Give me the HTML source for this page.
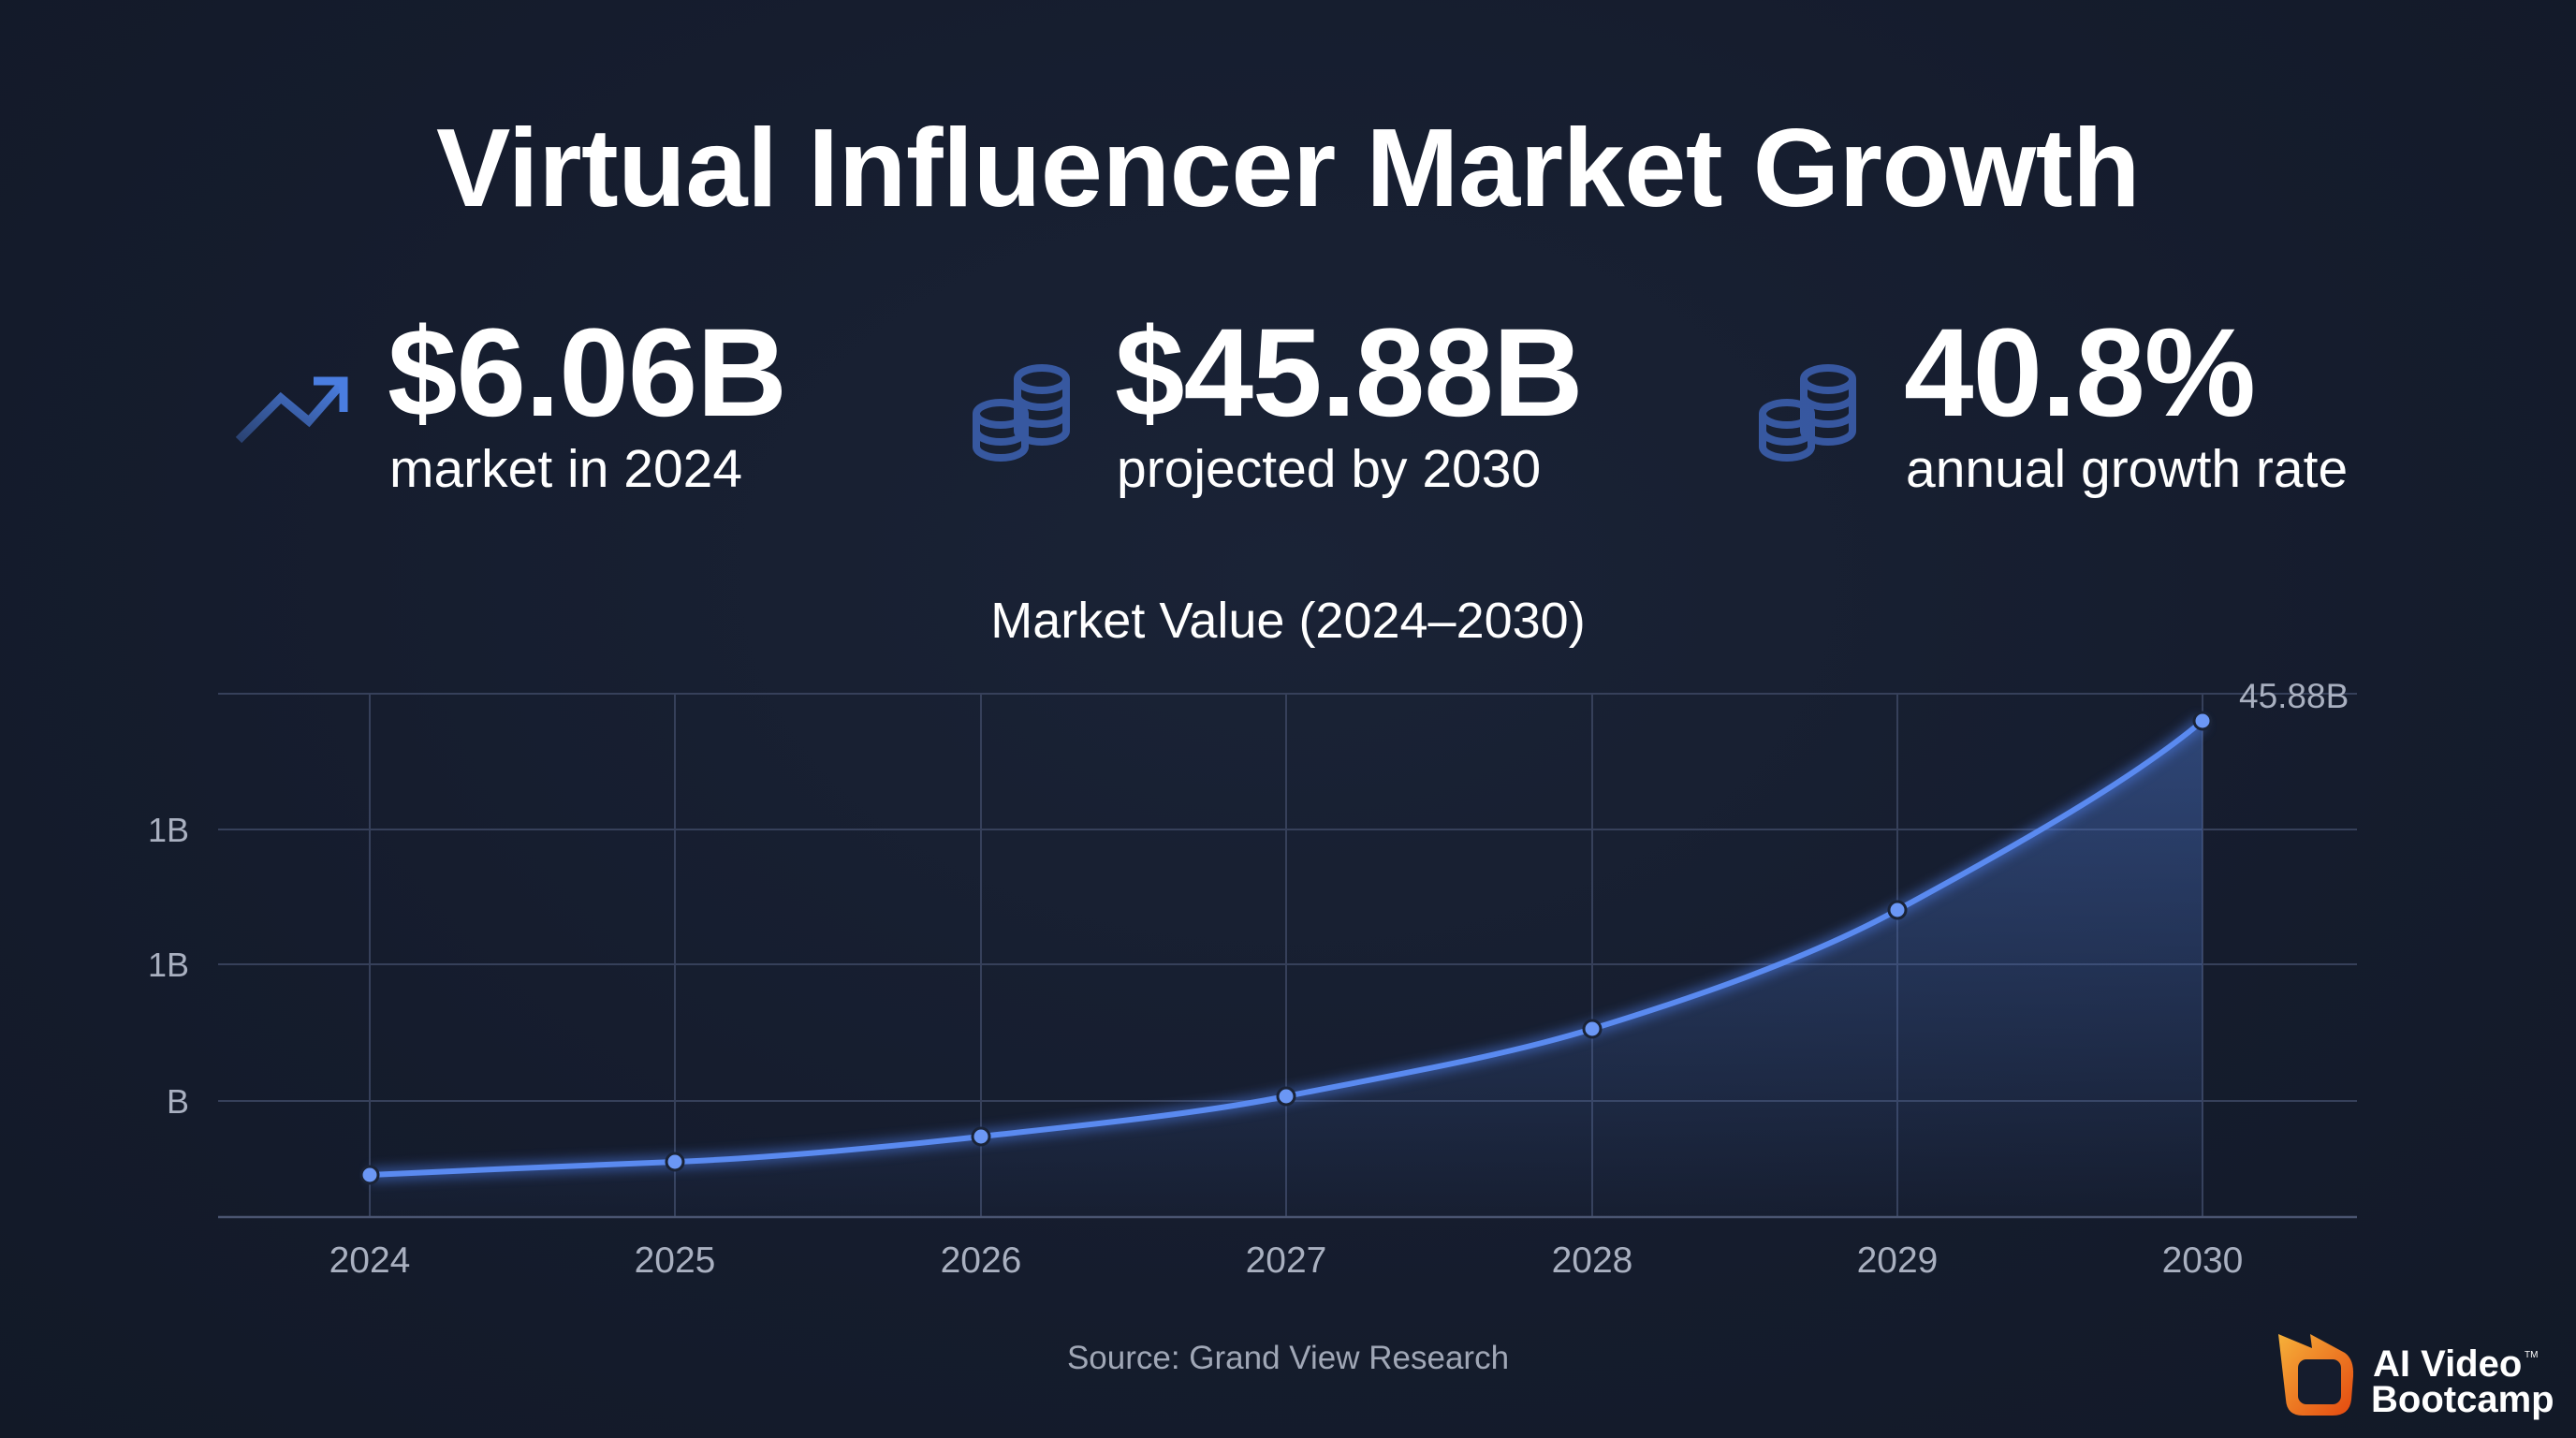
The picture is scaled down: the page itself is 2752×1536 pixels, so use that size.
<!DOCTYPE html>
<html><head><meta charset="utf-8"><style>
html,body{margin:0;padding:0;background:#151c2d;}
body{width:2752px;height:1536px;overflow:hidden;position:relative;font-family:"Liberation Sans",sans-serif;color:#fff;
background:radial-gradient(ellipse at 50% 40%,#1a2336 0%,#151c2d 60%,#121927 100%);}
.t{position:absolute;white-space:nowrap;}
</style></head><body>
<div class="t" style="left:0;width:2752px;text-align:center;top:111px;font-size:119px;font-weight:bold;letter-spacing:-0.5px;">Virtual Influencer Market Growth</div>

<div class="t" style="left:414px;top:322px;font-size:134px;font-weight:bold;letter-spacing:-1px;">$6.06B</div>
<div class="t" style="left:416px;top:468px;font-size:57px;">market in 2024</div>
<div class="t" style="left:1191px;top:322px;font-size:134px;font-weight:bold;letter-spacing:-1px;">$45.88B</div>
<div class="t" style="left:1193px;top:468px;font-size:57px;">projected by 2030</div>
<div class="t" style="left:2034px;top:322px;font-size:134px;font-weight:bold;letter-spacing:-1px;">40.8%</div>
<div class="t" style="left:2036px;top:468px;font-size:57px;">annual growth rate</div>

<svg width="2752" height="1536" style="position:absolute;left:0;top:0" xmlns="http://www.w3.org/2000/svg">
<defs>
<linearGradient id="tr" x1="0" y1="1" x2="1" y2="0"><stop offset="0" stop-color="#2a4272"/><stop offset="1" stop-color="#4a7de0"/></linearGradient>
<linearGradient id="ar" x1="0" y1="0" x2="0" y2="1"><stop offset="0" stop-color="#4d78d0" stop-opacity="0.45"/><stop offset="1" stop-color="#4d78d0" stop-opacity="0.02"/></linearGradient>
<linearGradient id="lg" x1="0" y1="0" x2="1" y2="1"><stop offset="0" stop-color="#f6b13a"/><stop offset="1" stop-color="#e4480f"/></linearGradient>
<filter id="gl"><feGaussianBlur stdDeviation="6"/></filter>
</defs>
<polyline points="255,470 300,425 330,450 365,410" fill="none" stroke="url(#tr)" stroke-width="9" stroke-linejoin="miter"/>
<polyline points="335,407 367,407 367,440" fill="none" stroke="#4a7de0" stroke-width="9"/>
<g fill="none" stroke="#3e63b5" stroke-width="8" opacity="0.85">
<g transform="translate(1041,0)">
<ellipse cx="72" cy="405" rx="26" ry="12"/><path d="M46,405 v55 a26,12 0 0 0 52,0 v-55 M46,423 a26,12 0 0 0 52,0 M46,441 a26,12 0 0 0 52,0"/>
<ellipse cx="28" cy="442" rx="26" ry="12"/><path d="M2,442 v35 a26,12 0 0 0 52,0 v-35 M2,460 a26,12 0 0 0 52,0"/>
</g>
<g transform="translate(1881,0)">
<ellipse cx="72" cy="405" rx="26" ry="12"/><path d="M46,405 v55 a26,12 0 0 0 52,0 v-55 M46,423 a26,12 0 0 0 52,0 M46,441 a26,12 0 0 0 52,0"/>
<ellipse cx="28" cy="442" rx="26" ry="12"/><path d="M2,442 v35 a26,12 0 0 0 52,0 v-35 M2,460 a26,12 0 0 0 52,0"/>
</g>
</g>
<text x="1376" y="681" font-size="54" fill="#fff" text-anchor="middle" font-family="Liberation Sans">Market Value (2024–2030)</text>
<g stroke="#36405a" stroke-width="2">
<line x1="233" y1="741" x2="2518" y2="741"/><line x1="233" y1="886" x2="2518" y2="886"/>
<line x1="233" y1="1030" x2="2518" y2="1030"/><line x1="233" y1="1176" x2="2518" y2="1176"/>
<line x1="395" y1="741" x2="395" y2="1300"/><line x1="721" y1="741" x2="721" y2="1300"/>
<line x1="1048" y1="741" x2="1048" y2="1300"/><line x1="1374" y1="741" x2="1374" y2="1300"/>
<line x1="1701" y1="741" x2="1701" y2="1300"/><line x1="2027" y1="741" x2="2027" y2="1300"/>
<line x1="2353" y1="741" x2="2353" y2="1300"/>
</g>
<line x1="233" y1="1300" x2="2518" y2="1300" stroke="#4a5470" stroke-width="2.5"/>
<g fill="#a9b0c0" font-size="36" font-family="Liberation Sans" text-anchor="end">
<text x="202" y="899">1B</text><text x="202" y="1043">1B</text><text x="202" y="1189">B</text>
</g>
<g fill="#a9b0c0" font-size="39" font-family="Liberation Sans" text-anchor="middle">
<text x="395" y="1359">2024</text><text x="721" y="1359">2025</text><text x="1048" y="1359">2026</text><text x="1374" y="1359">2027</text><text x="1701" y="1359">2028</text><text x="2027" y="1359">2029</text><text x="2353" y="1359">2030</text>
</g>
<path d="M395,1255 C500,1250 620,1245 721,1241 S950,1225 1048,1214 S1280,1190 1374,1171 S1600,1130 1701,1099 S1930,1025 2027,972 S2270,840 2353,770 L2353,1300 L395,1300 Z" fill="url(#ar)"/>
<path d="M395,1255 C500,1250 620,1245 721,1241 S950,1225 1048,1214 S1280,1190 1374,1171 S1600,1130 1701,1099 S1930,1025 2027,972 S2270,840 2353,770" fill="none" stroke="#4f80ee" stroke-width="14" opacity="0.5" filter="url(#gl)"/>
<path d="M395,1255 C500,1250 620,1245 721,1241 S950,1225 1048,1214 S1280,1190 1374,1171 S1600,1130 1701,1099 S1930,1025 2027,972 S2270,840 2353,770" fill="none" stroke="#5a8af0" stroke-width="6"/>
<g fill="#6b97f5" stroke="#1a2336" stroke-width="3">
<circle cx="395" cy="1255" r="9"/><circle cx="721" cy="1241" r="9"/><circle cx="1048" cy="1214" r="9"/><circle cx="1374" cy="1171" r="9"/><circle cx="1701" cy="1099" r="9"/><circle cx="2027" cy="972" r="9"/><circle cx="2353" cy="770" r="9"/>
</g>
<text x="2392" y="756" fill="#a9b0c0" font-size="37" font-family="Liberation Sans">45.88B</text>
<text x="1376" y="1462" fill="#a0a7b6" font-size="35" font-family="Liberation Sans" text-anchor="middle">Source: Grand View Research</text>
<path d="M2434,1425 L2470,1440 L2468,1425 L2505,1445 Q2515,1452 2514,1470 L2512,1495 Q2510,1512 2492,1512 L2460,1512 Q2443,1512 2442,1495 Z" fill="url(#lg)"/>
<rect x="2455" y="1452" width="46" height="48" rx="9" fill="#151c2d"/>
<text x="2535" y="1470" fill="#fff" font-size="40" font-weight="bold" font-family="Liberation Sans">AI Video</text>
<text x="2697" y="1450" fill="#fff" font-size="10" font-family="Liberation Sans">TM</text>
<text x="2533" y="1508" fill="#fff" font-size="40" font-weight="bold" font-family="Liberation Sans">Bootcamp</text>
</svg>
</body></html>
